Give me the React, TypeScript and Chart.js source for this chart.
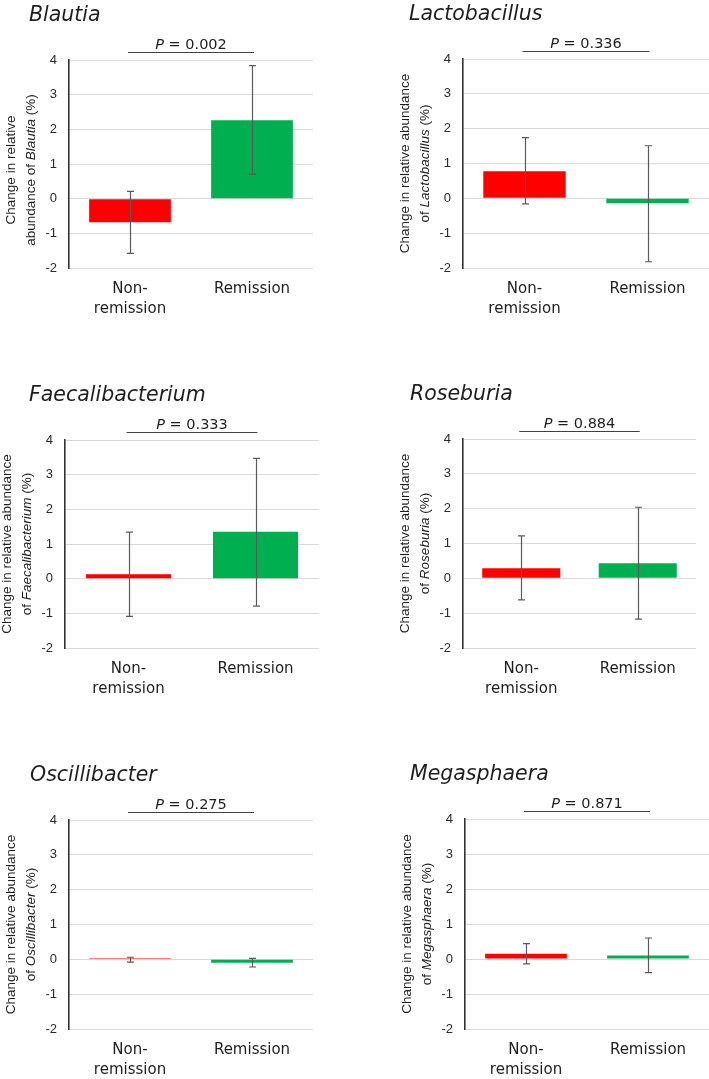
import React, { useEffect, useRef } from 'react';
import { Chart, registerables } from 'chart.js';

Chart.register(...registerables);

// ---------- data ----------
const genera = ['Blautia', 'Lactobacillus', 'Faecalibacterium', 'Roseburia', 'Oscillibacter', 'Megasphaera'];
const categories = [['Non-', 'remission'], 'Remission'];
const pValues = ['0.002', '0.336', '0.333', '0.884', '0.275', '0.871'];
const yTicks = [-2, -1, 0, 1, 2, 3, 4];

const nonRemissionMean = [-0.68, 0.78, 0.13, 0.29, 0.03, 0.15];
const nonRemissionUpper = [0.21, 1.74, 1.34, 1.22, 0.06, 0.44];
const nonRemissionLower = [-1.58, -0.16, -1.09, -0.62, -0.08, -0.14];

const remissionMean = [2.26, -0.14, 1.35, 0.43, -0.10, 0.10];
const remissionUpper = [3.84, 1.51, 3.47, 2.04, 0.03, 0.60];
const remissionLower = [0.70, -1.82, -0.79, -1.17, -0.22, -0.39];

// ---------- styles / layout ----------
const FONT = '"DejaVu Sans", "Liberation Sans", Arial, sans-serif';
const LABEL_FONT = '"Liberation Sans", Arial, sans-serif';
const TEXT = '#1e1e1e';
const RED = '#FF0000';
const GREEN = '#00B050';
const Y_AXIS_W = 40;
const X_AXIS_H = 45;

type Layout = {
  box: { left: number; top: number; width: number; height: number };
  area: { l: number; t: number; r: number; b: number };
  titleX: number;
  yShift: number;
};

const layouts: Layout[] = [
  { box: { left: 0, top: 0, width: 354, height: 340 }, area: { l: 69, t: 60, r: 313, b: 268 }, titleX: 29, yShift: 6 },
  { box: { left: 354, top: 0, width: 355, height: 340 }, area: { l: 463, t: 59, r: 709, b: 268 }, titleX: 409, yShift: 0 },
  { box: { left: 0, top: 340, width: 354, height: 380 }, area: { l: 65, t: 440, r: 319, b: 648 }, titleX: 29, yShift: 0 },
  { box: { left: 354, top: 340, width: 355, height: 380 }, area: { l: 463, t: 439, r: 696, b: 648 }, titleX: 410, yShift: 0 },
  { box: { left: 0, top: 720, width: 354, height: 359 }, area: { l: 69, t: 820, r: 313, b: 1029 }, titleX: 30, yShift: 0 },
  { box: { left: 354, top: 720, width: 355, height: 359 }, area: { l: 465, t: 819, r: 709, b: 1029 }, titleX: 410, yShift: 0 },
];

type Seg = { t: string; i?: boolean };

function yLabelLines(idx: number): Seg[][] {
  const g = genera[idx];
  if (idx === 0) {
    return [[{ t: 'Change in relative' }], [{ t: 'abundance of ' }, { t: g, i: true }, { t: ' (%)' }]];
  }
  return [[{ t: 'Change in relative abundance' }], [{ t: 'of ' }, { t: g, i: true }, { t: ' (%)' }]];
}

function drawSegs(ctx: CanvasRenderingContext2D, segs: Seg[], x: number, y: number, size: number, family: string) {
  let total = 0;
  const widths = segs.map((s) => {
    ctx.font = `${s.i ? 'italic ' : ''}${size}px ${family}`;
    const w = ctx.measureText(s.t).width;
    total += w;
    return w;
  });
  let cx = x - total / 2;
  segs.forEach((s, k) => {
    ctx.font = `${s.i ? 'italic ' : ''}${size}px ${family}`;
    ctx.fillText(s.t, cx, y);
    cx += widths[k];
  });
}

function Panel({ idx }: { idx: number }) {
  const ref = useRef<HTMLCanvasElement | null>(null);
  const lay = layouts[idx];

  useEffect(() => {
    const canvas = ref.current;
    if (!canvas) return;
    const { box, area } = lay;
    const padLeft = area.l - box.left - Y_AXIS_W;
    const padTop = area.t - box.top;
    const padRight = box.left + box.width - area.r;
    const padBottom = box.top + box.height - area.b - X_AXIS_H;

    const upper = [nonRemissionUpper[idx], remissionUpper[idx]];
    const lower = [nonRemissionLower[idx], remissionLower[idx]];

    const decor = {
      id: 'decor' + idx,
      afterDatasetsDraw(chart: any) {
        const { ctx, scales } = chart;
        const x = scales.x;
        const y = scales.y;
        ctx.save();
        ctx.strokeStyle = '#5a5a5a';
        ctx.lineWidth = 1.2;
        for (let i = 0; i < 2; i++) {
          const px = Math.round(x.getPixelForValue(i)) + 0.5;
          const yt = y.getPixelForValue(upper[i]);
          const yb = y.getPixelForValue(lower[i]);
          ctx.beginPath();
          ctx.moveTo(px, yt);
          ctx.lineTo(px, yb);
          ctx.moveTo(px - 3.5, yt);
          ctx.lineTo(px + 3.5, yt);
          ctx.moveTo(px - 3.5, yb);
          ctx.lineTo(px + 3.5, yb);
          ctx.stroke();
        }
        ctx.restore();
      },
      afterDraw(chart: any) {
        const { ctx, chartArea, scales } = chart;
        const x = scales.x;
        ctx.save();
        // title
        ctx.fillStyle = TEXT;
        ctx.textBaseline = 'alphabetic';
        ctx.textAlign = 'left';
        ctx.font = `italic 20.5px ${FONT}`;
        ctx.fillText(genera[idx], lay.titleX - box.left, chartArea.top - 39);
        // P value line
        const x0 = x.getPixelForValue(0) - 2;
        const x1 = x.getPixelForValue(1) + 2;
        const ly = Math.round(chartArea.top - 8) + 0.5;
        ctx.strokeStyle = '#404040';
        ctx.lineWidth = 1.2;
        ctx.beginPath();
        ctx.moveTo(x0, ly);
        ctx.lineTo(x1, ly);
        ctx.stroke();
        drawSegs(ctx, [{ t: 'P', i: true }, { t: ' = ' + pValues[idx] }], (x0 + x1) / 2, chartArea.top - 11, 14.5, FONT);
        // y-axis title
        const cy = (chartArea.top + chartArea.bottom) / 2 + lay.yShift;
        const lines = yLabelLines(idx);
        const offsets = [-58, -38];
        ctx.textBaseline = 'middle';
        lines.forEach((segs, k) => {
          ctx.save();
          ctx.translate(chartArea.left + offsets[k], cy);
          ctx.rotate(-Math.PI / 2);
          drawSegs(ctx, segs, 0, 0, 13.5, LABEL_FONT);
          ctx.restore();
        });
        ctx.restore();
      },
    };

    const chart = new Chart(canvas, {
      type: 'bar',
      data: {
        labels: categories as any,
        datasets: [
          {
            data: [nonRemissionMean[idx], remissionMean[idx]],
            backgroundColor: [RED, GREEN],
            borderWidth: 0,
            barPercentage: 0.67,
            categoryPercentage: 1,
          },
        ],
      },
      options: {
        responsive: false,
        animation: false,
        devicePixelRatio: 1,
        layout: { padding: { left: padLeft, top: padTop, right: padRight, bottom: padBottom } },
        plugins: { legend: { display: false }, tooltip: { enabled: false }, title: { display: false } },
        scales: {
          x: {
            grid: { display: false, drawTicks: false },
            border: { display: false },
            ticks: {
              color: TEXT,
              font: { family: FONT, size: 15, lineHeight: 1.33 },
              padding: 11,
              maxRotation: 0,
              autoSkip: false,
            },
            afterFit: (s: any) => {
              s.height = X_AXIS_H;
            },
          },
          y: {
            min: yTicks[0],
            max: yTicks[yTicks.length - 1],
            grid: { color: '#d9d9d9', lineWidth: 1, drawTicks: false },
            border: { display: true, color: '#333333', width: 1.6 },
            ticks: {
              stepSize: 1,
              color: '#2a2a2a',
              font: { family: LABEL_FONT, size: 13 },
              padding: 12,
            },
            afterFit: (s: any) => {
              s.width = Y_AXIS_W;
            },
          },
        },
      },
      plugins: [decor],
    });
    return () => chart.destroy();
  }, [idx]);

  return (
    <canvas
      ref={ref}
      width={lay.box.width}
      height={lay.box.height}
      style={{
        position: 'absolute',
        left: lay.box.left,
        top: lay.box.top,
        width: lay.box.width,
        height: lay.box.height,
      }}
    />
  );
}

export default function App() {
  return (
    <div style={{ position: 'absolute', left: 0, top: 0, width: 709, height: 1079, background: '#ffffff' }}>
      {genera.map((_, i) => (
        <Panel key={i} idx={i} />
      ))}
    </div>
  );
}
